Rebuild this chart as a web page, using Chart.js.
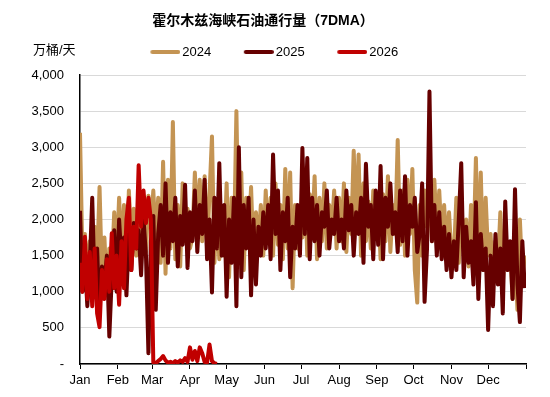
<!DOCTYPE html>
<html>
<head>
<meta charset="utf-8">
<script src="https://cdn.jsdelivr.net/npm/chart.js@4.4.1/dist/chart.umd.min.js"></script>
<style>
  html, body { margin: 0; padding: 0; background: #fff; }
</style>
</head>
<body>
<canvas id="chart" width="550" height="397"></canvas>
<script>
const FONT = '"Liberation Sans", Arial, "Noto Sans CJK SC", sans-serif';
const STEP = 2; // one reading every 2 days, x = day of year

const years = ["2024", "2025", "2026"];
const colors = ["#C49453", "#660000", "#C00000"];
const monthNames = ["Jan", "Feb", "Mar", "Apr", "May", "Jun", "Jul", "Aug", "Sep", "Oct", "Nov", "Dec", ""];
const monthStarts = [0, 31, 59, 90, 120, 151, 181, 212, 243, 273, 304, 334, 365];

// 万桶/天, 7-day moving average
const flow2024 = [
    3200, 1450, 1800, 1250, 1700, 1100, 1900, 1350, 2450, 1150, 1750, 950, 1600, 1300, 2100, 1450,
    2300, 1500, 2200, 1350, 2400, 1650, 2150, 1500, 2440, 1700, 2000, 1550, 2330, 1900,
    2400, 1700, 2300, 1400, 2800, 1250, 2550, 1600, 3350, 1450, 2200, 1350, 2500, 1700, 2150, 1600,
    1750, 2650, 1900, 2550, 1700, 2600, 1600, 2350, 3150, 1400, 2250, 1450, 2100, 1500, 2500,
    1200, 2300, 1600, 3500, 1550, 2650, 1300, 2300, 1700, 2450, 1450, 2100, 1650, 2200, 1500,
    2400, 1700, 2300, 1500, 2500, 1650, 2200, 1450, 2700, 1600, 2650, 1050, 2200, 1600, 2100,
    1750, 2500, 1500, 2350, 1800, 2600, 1450, 2300, 1700, 2500, 1600, 2200, 1800, 2400, 1600, 2300,
    1700, 2500, 1550, 2300, 1800, 2950, 1900, 2900, 1500, 2500, 1700, 2250, 1600, 2400, 1750,
    2200, 1450, 2350, 1700, 2600, 1550, 2200, 1800, 3100, 1650, 2400, 1500, 2550, 1800, 2700,
    1300, 850, 2200, 1500, 2400, 1900, 2350, 1700, 2550, 1800, 2400, 1700, 2200, 1600, 2100, 1500,
    1500, 2300, 1400, 2100, 1600, 2000, 1350, 2200, 1500, 2850, 1400, 2650, 1300, 2300, 1500,
    1800, 1200, 1700, 1350, 2100, 1100, 1700, 1300, 1600, 900, 1500, 750, 2000, 1200, 1500
];

const flow2025 = [
    2120, 1000, 1450, 800, 1350, 2300, 1050, 1600, 750, 1350, 1100, 1500, 380, 1200, 1850, 1000,
    2000, 1400, 1750, 950, 1800, 1300, 1950, 1600, 1850, 1230, 2000, 1500, 150, 1700,
    2050, 750, 1800, 2200, 1500, 2500, 1400, 2100, 1700, 2300, 1350, 2050, 1650, 2480, 1330, 2100,
    1700, 2400, 1550, 2200, 1800, 2550, 1450, 2000, 990, 2300, 1600, 2780, 1500, 2200, 930,
    2000, 1400, 2300, 800, 3000, 1200, 2200, 1600, 2300, 950, 2000, 1100, 1900, 1500, 2100,
    1600, 2200, 1450, 2900, 1800, 2400, 1300, 2100, 1700, 2300, 1200, 1900, 1600, 2200, 1500,
    2990, 1800, 2850, 1450, 2300, 1700, 2200, 1500, 2100, 1900, 2400, 1600, 2000, 1800, 2300, 1700,
    2000, 1600, 2400, 1850, 2200, 1500, 2100, 1800, 2300, 1400, 2770, 1900, 2200, 1450, 2400,
    1650, 2740, 1450, 2300, 1900, 2500, 1800, 2100, 1550, 2400, 1700, 2600, 1500, 2200, 1900,
    2300, 1550, 1800, 2500, 860, 1600, 3770, 1700, 2200, 1500, 2100, 1450, 1900, 1300, 1800, 1200,
    1700, 1300, 2000, 2780, 1200, 1900, 1400, 1700, 1100, 2240, 900, 1800, 1300, 1600, 470,
    1500, 800, 1800, 1100, 1600, 700, 2250, 1300, 1700, 900, 2420, 1100, 580, 1700, 1050
];

const flow2026 = [
    1400, 1000, 1760, 900, 1550, 800, 1600, 700, 510, 1300, 900, 1450, 1000, 1810, 1050, 1500,
    820, 1700, 1050, 2000, 2300, 1300, 1900, 1600, 2750, 1900, 2400, 1950, 2300, 2000,
    20, 10, 40, 70, 110, 50, 20, 30, 10, 40, 20, 50, 30, 80, 30, 230, 60, 180, 40, 230, 150, 30, 20, 270, 40, 10, 0
];

const series = [flow2024, flow2025, flow2026];

function legendLine(color) {
    const c = document.createElement("canvas");
    c.width = 57;
    c.height = 6;
    const g = c.getContext("2d");
    g.strokeStyle = color;
    g.lineWidth = 4;
    g.lineCap = "round";
    g.beginPath();
    g.moveTo(29, 3);
    g.lineTo(55, 3);
    g.stroke();
    return c;
}

const unitLabel = {
    id: "unitLabel",
    afterDraw(chart) {
        const ctx = chart.ctx;
        ctx.save();
        ctx.font = "13px " + FONT;
        ctx.fillStyle = "#000";
        ctx.textBaseline = "middle";
        ctx.fillText("万桶/天", 33, 50);
        ctx.restore();
    }
};

new Chart(document.getElementById("chart"), {
    type: "line",
    plugins: [unitLabel],
    data: {
        datasets: years.map((year, k) => ({
            label: year,
            data: series[k].map((v, i) => ({ x: i * STEP, y: v })),
            borderColor: colors[k],
            backgroundColor: colors[k],
            borderWidth: 4,
            borderJoinStyle: "round",
            pointRadius: 0,
            pointStyle: legendLine(colors[k]),
            tension: 0,
            order: 3 - k
        }))
    },
    options: {
        responsive: false,
        devicePixelRatio: 1,
        animation: false,
        events: [],
        layout: { padding: { top: 0, right: 24, bottom: 0, left: 0 } },
        scales: {
            x: {
                type: "linear",
                min: 0,
                max: 365,
                afterBuildTicks: (axis) => {
                    axis.ticks = monthStarts.map((v) => ({ value: v }));
                },
                afterFit: (scale) => { scale.height = 33; },
                ticks: {
                    autoSkip: false,
                    maxRotation: 0,
                    padding: 4,
                    color: "#000",
                    font: { family: FONT, size: 13 },
                    callback: (value, index) => monthNames[index]
                },
                grid: { drawOnChartArea: false, color: "#000", tickLength: 5 },
                border: { color: "#000", width: 1.5 }
            },
            y: {
                min: 0,
                max: 4000,
                afterFit: (scale) => { scale.width = 80; },
                ticks: {
                    stepSize: 500,
                    padding: 16,
                    color: "#000",
                    font: { family: FONT, size: 13 },
                    callback: (v) => (v === 0 ? "-" : v.toLocaleString("en-US"))
                },
                grid: { color: "#d9d9d9", drawTicks: false },
                border: { color: "#000", width: 1.5 }
            }
        },
        plugins: {
            tooltip: { enabled: false },
            title: {
                display: true,
                text: "霍尔木兹海峡石油通行量（7DMA）",
                color: "#000",
                font: { family: FONT, size: 14, weight: "bold" },
                padding: { top: 13, bottom: 5.7 }
            },
            legend: {
                labels: {
                    usePointStyle: true,
                    pointStyleWidth: 48,
                    padding: 10,
                    color: "#000",
                    font: { family: FONT, size: 13 },
                    sort: (a, b) => a.datasetIndex - b.datasetIndex
                }
            },
            subtitle: {
                // spacer between legend and plot
                display: true,
                text: "",
                weight: 500,
                font: { size: 1, lineHeight: 1 },
                padding: { top: 0, bottom: 5.5 }
            }
        }
    }
});
</script>
</body>
</html>
